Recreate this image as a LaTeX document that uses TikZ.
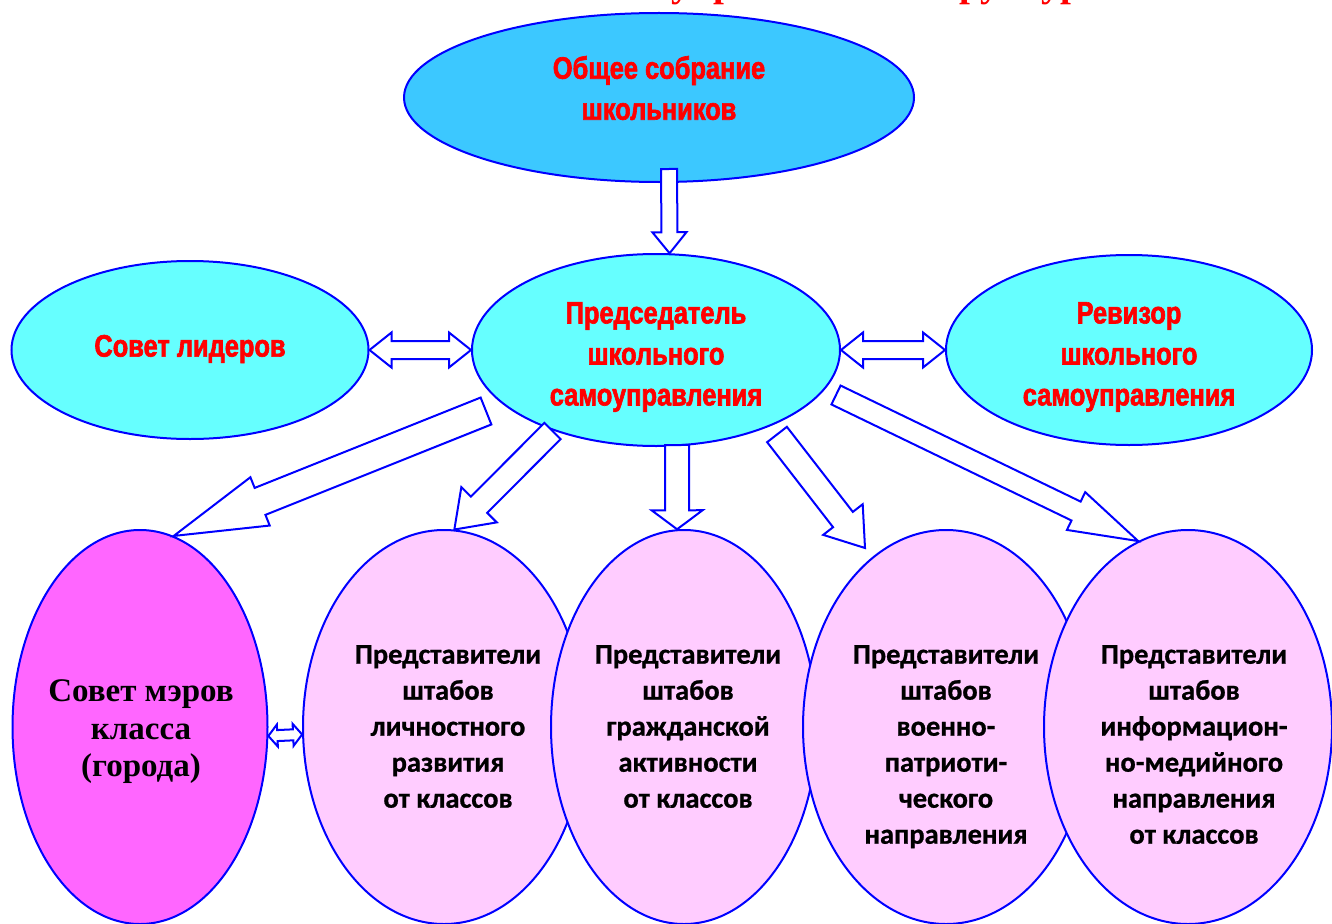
\documentclass[tikz,border=0pt]{standalone}
\usepackage{fontspec}
\setmainfont{Liberation Serif}
\newfontfamily\posterfont[FakeStretch=0.82,FakeBold=2]{Liberation Sans}
\newfontfamily\calfont[FakeBold=0.8]{Carlito}
\usetikzlibrary{%
	calc,%
	shapes.geometric%
}
\definecolor{topblue}{RGB}{60,200,255}
\definecolor{cyanfill}{RGB}{102,255,255}
\definecolor{mayorpink}{RGB}{255,102,255}
\definecolor{lightpink}{RGB}{255,204,255}
\definecolor{edgeblue}{RGB}{0,0,255}
\definecolor{headred}{RGB}{255,0,0}
\tikzset{
	ball/.style={ellipse, draw=edgeblue, line width=2pt, inner sep=0pt},
	redtext/.style={text=headred, align=center, inner sep=0pt,
		font=\posterfont\bfseries\fontsize{31}{41}\selectfont},
	pinktext/.style={align=center, inner sep=0pt, anchor=north,
		font=\calfont\bfseries\fontsize{28.5}{36}\selectfont},
	arrowbody/.style={draw=edgeblue, fill=white, line width=2pt, line join=miter}
}
% block arrow: from, to, half shaft, half head, head length
\newcommand{\blockarrow}[5]{%
	\coordinate (hb) at ($(#2)!#5!(#1)$);
	\draw[arrowbody] ($(#1)!#3!90:(#2)$) -- ($(hb)!#3!90:(#2)$) -- ($(hb)!#4!90:(#2)$) -- (#2)
		-- ($(hb)!#4!-90:(#2)$) -- ($(hb)!#3!-90:(#2)$) -- ($(#1)!#3!-90:(#2)$) -- cycle;
}
% arrow with two heads
\newcommand{\twinarrow}[5]{%
	\coordinate (ha) at ($(#1)!#5!(#2)$);
	\coordinate (hb) at ($(#2)!#5!(#1)$);
	\draw[arrowbody] (#1) -- ($(ha)!#4!90:(#2)$) -- ($(ha)!#3!90:(#2)$) -- ($(hb)!#3!-90:(#1)$)
		-- ($(hb)!#4!-90:(#1)$) -- (#2) -- ($(hb)!#4!90:(#1)$) -- ($(hb)!#3!90:(#1)$)
		-- ($(ha)!#3!-90:(#2)$) -- ($(ha)!#4!-90:(#2)$) -- cycle;
}
\begin{document}
\begin{tikzpicture}[x=1pt,y=-1pt]
	\useasboundingbox (0,0) rectangle (1332,923);
	% TikZ code for the self-government scheme
	\node[text=headred, anchor=base west, inner sep=0pt, font=\bfseries\fontsize{39}{39}\selectfont]
		(title) at (266,-3) {Схема школьного самоуправления и структура};
	\node[ball, fill=topblue, minimum width=510pt, minimum height=169pt] (gen) at (659,97.5) {};
	\node[ball, fill=cyanfill, minimum width=357pt, minimum height=178pt] (lead) at (190,350) {};
	\node[ball, fill=cyanfill, minimum width=368pt, minimum height=192pt] (chair) at (656,350) {};
	\node[ball, fill=cyanfill, minimum width=366pt, minimum height=190pt] (aud) at (1129,350) {};
	\node[ball, fill=mayorpink, minimum width=255pt, minimum height=394pt] (mayor) at (140,727) {};
	\foreach \name/\cx/\wd in {pA/444/282,pB/684/266,pC/946/286,pD/1188/288}
		\node[ball, fill=lightpink, minimum width=\wd pt, minimum height=394pt] (\name) at (\cx,727) {};
	\node[redtext] (genText) at (659,88) {Общее собрание\\школьников};
	\node[redtext] (leadText) at (190,349) {Совет лидеров};
	\node[redtext] (chairText) at (656,357) {Председатель\\школьного\\самоуправления};
	\node[redtext] (audText) at (1129,357) {Ревизор\\школьного\\самоуправления};
	\node[align=center, inner sep=0pt, font=\bfseries\fontsize{33}{37.5}\selectfont]
		(mayorText) at (141,732) {Совет мэров\\класса\\(города)};
	\node[pinktext] (pAtext) at (448,645) {Представители\\штабов\\личностного\\развития\\от классов};
	\node[pinktext] (pBtext) at (688,645) {Представители\\штабов\\гражданской\\активности\\от классов};
	\node[pinktext] (pCtext) at (946,645) {Представители\\штабов\\военно-\\патриоти-\\ческого\\направления};
	\node[pinktext] (pDtext) at (1194,645) {Представители\\штабов\\информацион-\\но-медийного\\направления\\от классов};
	\coordinate (genOut) at (669,169);
	\coordinate (tailA) at (486,411);
	\coordinate (tailB) at (552.5,431);
	\coordinate (tailC) at (677,445);
	\coordinate (tailD) at (777,434.5);
	\coordinate (tipD) at (865,548);
	\coordinate (tailE) at (836,395);
	\blockarrow{genOut}{chair.82}{8pt}{17pt}{21pt}
	\blockarrow{tailA}{mayor.80}{14.5pt}{26pt}{93pt}
	\blockarrow{tailB}{pA.87}{11.5pt}{25pt}{35pt}
	\blockarrow{tailC}{pB.92}{12pt}{25.5pt}{19pt}
	\blockarrow{tailD}{tipD}{12.5pt}{25pt}{36pt}
	\blockarrow{tailE}{pD.105}{10.5pt}{21pt}{69pt}
	\twinarrow{lead.east}{chair.west}{9pt}{17.5pt}{22pt}
	\twinarrow{chair.east}{aud.west}{9pt}{17.5pt}{22pt}
	\twinarrow{mayor.-4}{pA.183}{5.5pt}{11pt}{9pt}
\end{tikzpicture}
\end{document}
